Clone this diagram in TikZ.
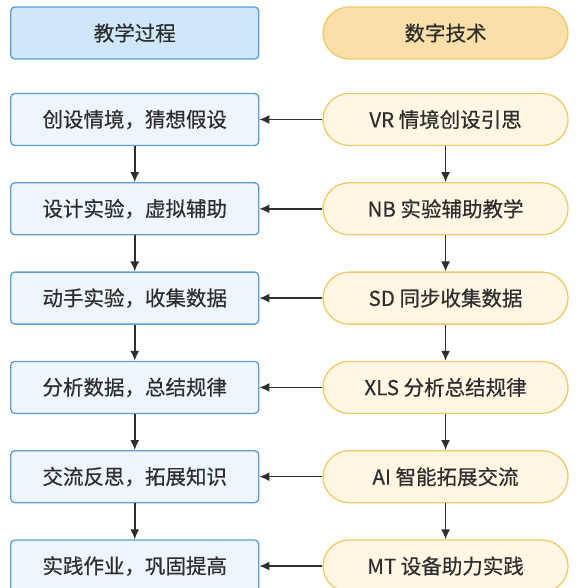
\documentclass[tikz,border=0pt]{standalone}
\usepackage{fontspec}
\setmainfont{Noto Sans CJK SC}
\newfontfamily\cjkmed{Noto Sans CJK SC}[FakeBold=0.5]
\usetikzlibrary{positioning,arrows.meta}

\definecolor{procline}{HTML}{5C9DD3}
\definecolor{procfill}{HTML}{EEF6FD}
\definecolor{prochead}{HTML}{CEE8F9}
\definecolor{techline}{HTML}{EFCA68}
\definecolor{techfill}{HTML}{FFF6E3}
\definecolor{techhead}{HTML}{FAE0A8}
\definecolor{txtgray}{HTML}{2E2E2E}

\begin{document}
\begin{tikzpicture}[
        node distance=36pt and 63pt,
        base/.style={
          draw,
          line width=1.3pt,
          minimum height=52pt,
          inner sep=0pt,
          text=txtgray,
          font=\cjkmed\fontsize{20.5}{24}\selectfont,
          align=center
        },
        procbox/.style={base, draw=procline, fill=procfill,
          rounded corners=4pt, minimum width=248pt},
        techbox/.style={base, draw=techline, fill=techfill,
          rounded corners=26pt, minimum width=245pt},
        arr/.style={-{Latex[length=10pt,width=9pt]}, line width=1.5pt, draw=txtgray}
      ]
      \useasboundingbox (0pt,0pt) rectangle (576pt,-588pt);

      % Headers
      \node[procbox, fill=prochead] (headL) at (134.75pt,-33pt) {教学过程};
      \node[techbox, fill=techhead, right=of headL] (headR) {数字技术};

      % Left column: teaching process
      \node[procbox] (p1) at (134.75pt,-119.5pt) {创设情境，猜想假设};
      \node[procbox, below=of p1] (p2) {设计实验，虚拟辅助};
      \node[procbox, below=of p2] (p3) {动手实验，收集数据};
      \node[procbox, below=of p3] (p4) {分析数据，总结规律};
      \node[procbox, below=of p4] (p5) {交流反思，拓展知识};
      \node[procbox, below=of p5] (p6) {实践作业，巩固提高};

      % Right column: digital technology
      \node[techbox, right=of p1] (t1) {VR 情境创设引思};
      \node[techbox, right=of p2] (t2) {NB 实验辅助教学};
      \node[techbox, right=of p3] (t3) {SD 同步收集数据};
      \node[techbox, right=of p4] (t4) {XLS 分析总结规律};
      \node[techbox, right=of p5] (t5) {AI 智能拓展交流};
      \node[techbox, right=of p6] (t6) {MT 设备助力实践};

      \foreach \i/\j in {1/2,2/3,3/4,4/5,5/6} {
        \draw[arr] (p\i) -- (p\j);
        \draw[arr] (t\i) -- (t\j);
      }
      \foreach \i in {1,...,6}
        \draw[arr] (t\i) -- (p\i);

\end{tikzpicture}
\end{document}
